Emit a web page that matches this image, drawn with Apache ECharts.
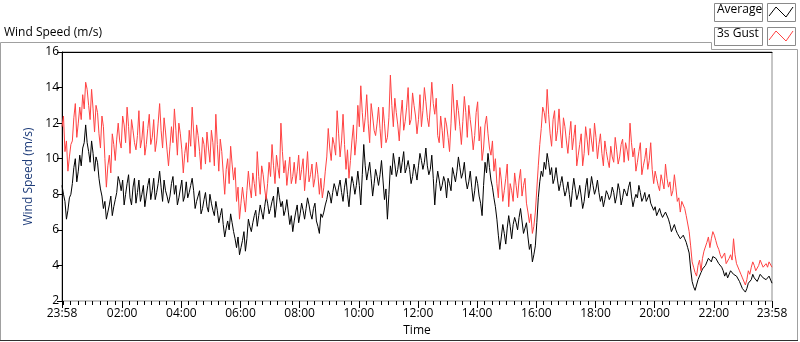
<!DOCTYPE html>
<html>
<head>
<meta charset="utf-8">
<script src="https://cdn.jsdelivr.net/npm/echarts@6/dist/echarts.min.js"></script>
<style>
  html, body { margin: 0; padding: 0; background: #fff; }
  #chart { width: 800px; height: 342px; }
</style>
</head>
<body>
<div id="chart"></div>
<script>
// samples every 3 minutes from 23:58: the "On" arrays hold minutes 0, 6, 12 ...,
// the "Mid" arrays hold minutes 3, 9, 15 ...
var STEP = 6;

// Average wind speed (m/s)
var averageOn = [
  8.5, 7.6, 7.1, 8.0, 9.5, 8.7, 10.2, 10.6, 11.9, 10.4,
  11.0, 9.3, 9.8, 8.3, 7.2, 6.6, 7.4, 6.8, 7.7, 9.0,
  8.2, 7.4, 8.6, 7.8, 8.4, 7.5, 8.8, 8.0, 7.3, 8.5,
  7.7, 8.9, 8.1, 9.3, 7.6, 8.2, 7.5, 8.6, 8.0, 7.4,
  8.3, 7.6, 8.7, 8.1, 8.9, 7.2, 7.9, 6.9, 7.7, 7.3,
  8.0, 7.1, 7.6, 6.4, 7.2, 5.6, 6.5, 6.9, 5.9, 5.0,
  4.6, 5.4, 4.8, 6.6, 5.9, 6.8, 6.2, 7.4, 6.6, 7.9,
  6.9, 7.6, 6.7, 8.4, 7.3, 6.8, 7.7, 6.3, 5.9, 7.0,
  6.4, 7.5, 6.6, 7.8, 6.9, 7.2, 6.5, 5.8, 6.7, 7.4,
  8.2, 7.5, 8.6, 7.9, 8.8, 7.6, 8.9, 7.3, 9.0, 8.0,
  9.3, 7.4, 10.8, 8.8, 9.8, 7.9, 9.4, 8.5, 9.9, 7.7,
  6.6, 9.6, 10.3, 9.0, 10.1, 9.8, 9.2, 9.9, 8.6, 9.7,
  8.8, 10.3, 9.4, 10.6, 9.1, 10.2, 7.4, 9.3, 8.2, 9.0,
  7.8, 8.6, 9.5, 8.7, 10.1, 8.9, 9.8, 8.3, 9.3, 7.6,
  9.0, 7.9, 6.8, 9.8, 10.3, 8.8, 7.8, 6.6, 4.9, 6.3,
  5.2, 6.8, 5.5, 6.7, 6.0, 7.2, 5.8, 6.4, 4.9, 4.2,
  5.1, 7.8, 9.3, 9.8, 10.3, 9.1, 8.6, 9.5, 8.2, 9.0,
  7.9, 8.7, 7.3, 8.9, 7.7, 8.5, 7.2, 8.4, 7.8, 9.0,
  8.0, 8.8, 7.6, 7.3, 8.2, 7.7, 8.4, 7.5, 8.6, 7.4,
  8.3, 7.9, 8.7, 7.3, 8.0, 8.5, 7.6, 8.1, 7.8, 7.5,
  7.1, 6.8, 7.2, 6.7, 7.0, 6.6, 5.9, 6.3, 5.8, 5.5,
  5.7, 5.3, 4.7, 3.1, 2.6, 3.2, 3.6, 3.9, 4.2, 4.3,
  4.5, 4.4, 4.1, 3.9, 3.4, 3.3, 3.7, 3.5, 3.4, 3.1,
  2.7, 2.5, 3.0, 3.2, 3.3, 3.1, 3.5, 3.3, 3.2, 3.4, 3.0
];
var averageMid = [
  8.0, 6.6, 7.8, 8.6, 10.0, 9.3, 9.6, 10.9, 10.9, 9.8,
  10.3, 10.1, 8.9, 7.9, 7.6, 7.0, 7.9, 7.3, 8.1, 8.7,
  8.8, 8.0, 9.1, 7.4, 8.9, 8.1, 7.6, 8.5, 7.9, 8.9,
  8.2, 7.7, 8.6, 8.4, 8.8, 7.9, 7.9, 9.0, 8.5, 7.8,
  8.8, 7.9, 7.8, 8.5, 8.2, 7.6, 8.2, 7.2, 8.1, 7.0,
  7.5, 6.8, 7.1, 6.8, 6.3, 6.1, 6.0, 6.4, 5.5, 5.6,
  5.0, 5.9, 5.5, 6.2, 6.4, 7.1, 6.8, 7.0, 7.3, 7.5,
  7.2, 7.9, 7.4, 7.8, 7.6, 7.1, 7.0, 6.8, 6.5, 7.4,
  6.9, 7.1, 7.2, 7.4, 6.6, 7.5, 6.2, 6.9, 7.0, 7.7,
  8.0, 8.1, 8.3, 8.4, 8.1, 8.4, 8.0, 8.3, 8.6, 8.5,
  8.5, 9.1, 9.6, 9.3, 8.9, 8.6, 9.0, 9.1, 8.8, 8.3,
  8.0, 9.1, 9.7, 9.4, 9.2, 10.4, 9.5, 9.4, 9.0, 9.3,
  9.6, 9.9, 9.8, 9.6, 9.4, 8.9, 8.6, 8.8, 8.5, 8.7,
  8.9, 8.2, 9.1, 9.3, 9.5, 9.2, 8.8, 8.7, 8.4, 8.2,
  8.6, 7.5, 8.5, 9.2, 9.5, 8.4, 7.3, 5.7, 5.6, 5.8,
  6.1, 6.2, 6.3, 6.4, 6.7, 6.5, 6.1, 5.6, 5.2, 4.6,
  6.4, 8.7, 9.0, 9.4, 9.8, 9.5, 8.9, 8.8, 8.6, 8.4,
  8.2, 8.0, 8.2, 8.3, 8.0, 7.9, 7.6, 8.9, 8.3, 8.5,
  8.3, 8.1, 7.9, 7.7, 8.0, 7.9, 8.1, 7.9, 8.2, 7.8,
  8.1, 8.4, 7.9, 7.7, 7.8, 8.1, 7.8, 7.6, 8.0, 7.4,
  7.3, 7.0, 6.9, 6.8, 6.9, 6.3, 6.1, 6.0, 5.7, 5.4,
  5.5, 5.0, 3.8, 2.8, 2.9, 3.3, 3.8, 4.0, 4.4, 4.2,
  4.6, 4.3, 4.0, 3.7, 3.6, 3.4, 3.8, 3.6, 3.3, 2.9,
  2.8, 2.7, 3.1, 3.5, 3.2, 3.3, 3.6, 3.4, 3.1, 3.3
];

// 3s gust (m/s)
var gustOn = [
  11.8, 10.4, 9.3, 10.8, 12.3, 11.2, 12.9, 13.6, 14.3, 13.0,
  13.9, 11.5, 12.6, 10.6, 11.8, 8.4, 10.2, 11.4, 9.9, 12.0,
  10.6, 11.9, 12.9, 10.3, 11.6, 10.5, 12.7, 11.1, 10.2, 11.7,
  10.8, 12.2, 11.0, 13.1, 10.6, 11.5, 9.6, 11.8, 12.8, 10.2,
  11.4, 9.2, 10.9, 11.6, 12.9, 10.1, 11.3, 9.4, 10.8, 11.5,
  9.8, 10.9, 12.5, 9.3, 10.4, 8.0, 10.0, 10.7, 8.8, 7.6,
  6.6, 8.4, 7.0, 9.3, 7.8, 8.6, 10.4, 8.0, 9.1, 7.7,
  9.8, 10.8, 8.6, 9.5, 12.0, 9.2, 8.5, 10.1, 9.0, 8.6,
  10.2, 9.4, 8.2, 10.4, 9.1, 8.4, 9.8, 8.0, 7.8, 9.3,
  11.7, 9.9, 10.8, 12.7, 10.1, 12.5, 9.4, 8.9, 11.0, 10.2,
  13.0, 14.1, 11.5, 13.6, 10.9, 12.4, 11.3, 12.9, 10.6, 12.0,
  11.2, 14.7, 11.8, 12.6, 11.0, 13.3, 12.1, 14.0, 12.2, 13.0,
  11.4, 13.6, 12.7, 13.2, 11.8, 14.3, 12.5, 11.3, 12.4, 10.6,
  11.9, 10.4, 14.2, 11.6, 12.7, 10.8, 13.5, 11.2, 12.2, 10.5,
  12.6, 11.0, 9.9, 11.9, 11.4, 10.2, 9.3, 8.6, 9.5, 7.6,
  8.9, 7.3, 8.2, 9.2, 7.8, 9.4, 8.5, 7.5, 6.4, 5.8,
  7.0, 9.6, 11.7, 12.6, 13.9, 11.4, 12.2, 11.0, 12.8, 10.6,
  11.8, 10.3, 12.1, 11.2, 9.6, 10.8, 9.6, 11.8, 10.2, 11.0,
  12.0, 10.0, 11.4, 9.6, 10.4, 9.5, 10.1, 11.2, 9.7, 10.8,
  9.8, 10.5, 12.0, 10.1, 9.3, 10.4, 9.1, 10.0, 9.4, 10.9,
  8.6, 8.9, 8.2, 8.7, 9.7, 8.4, 7.9, 9.1, 7.6, 7.0,
  7.4, 6.8, 5.9, 4.2, 3.6, 4.0, 3.7, 4.8, 5.3, 5.0,
  5.9, 5.4, 4.9, 4.4, 4.7, 4.2, 4.6, 5.5, 4.1, 3.7,
  3.3, 2.9, 3.7, 3.9, 4.0, 3.8, 4.3, 3.9, 4.1, 4.2, 3.9
];
var gustMid = [
  12.4, 11.0, 10.1, 11.0, 13.1, 12.0, 12.2, 12.8, 13.9, 12.2,
  12.8, 13.0, 11.4, 12.4, 10.0, 9.6, 9.2, 10.8, 11.1, 11.0,
  12.4, 10.9, 11.8, 12.2, 10.9, 11.3, 10.6, 12.1, 10.8, 12.5,
  11.2, 10.4, 12.0, 11.6, 12.3, 10.5, 10.7, 10.9, 11.6, 12.0,
  10.5, 10.3, 9.8, 10.7, 11.5, 11.9, 10.4, 11.2, 9.7, 10.6,
  11.6, 9.6, 10.8, 11.1, 9.2, 9.4, 8.6, 9.7, 9.5, 8.4,
  7.5, 7.7, 8.2, 8.4, 9.2, 7.9, 9.0, 9.6, 8.3, 8.6,
  9.0, 9.6, 10.2, 8.9, 10.4, 9.9, 9.3, 8.6, 9.8, 9.3,
  8.8, 10.0, 9.2, 8.7, 9.7, 8.9, 9.1, 8.9, 8.4, 10.1,
  10.6, 11.2, 10.2, 11.4, 11.0, 10.8, 10.5, 9.9, 11.9, 11.1,
  11.8, 12.6, 12.3, 12.0, 13.1, 11.6, 12.0, 11.7, 12.9, 10.9,
  12.3, 13.0, 13.4, 11.9, 12.4, 11.6, 12.9, 11.9, 13.7, 12.4,
  12.2, 11.8, 14.0, 12.3, 12.9, 13.1, 13.4, 10.9, 11.6, 12.3,
  11.2, 12.0, 12.8, 13.3, 11.8, 12.1, 12.6, 13.0, 11.5, 11.3,
  13.2, 11.8, 10.6, 12.4, 10.6, 11.0, 10.0, 7.8, 8.8, 8.2,
  9.7, 8.6, 7.6, 8.5, 8.8, 7.9, 8.9, 7.0, 6.9, 6.2,
  8.3, 10.8, 12.9, 12.0, 12.5, 10.7, 12.7, 11.6, 11.5, 12.3,
  11.0, 11.3, 10.5, 11.9, 10.2, 11.4, 10.3, 11.1, 11.7, 10.4,
  11.2, 10.8, 10.3, 11.0, 9.9, 10.7, 9.8, 10.5, 10.1, 11.1,
  10.9, 9.9, 10.9, 10.6, 9.8, 10.9, 9.6, 10.6, 9.9, 9.4,
  9.3, 8.5, 9.1, 8.3, 8.9, 8.7, 8.2, 8.4, 7.8, 7.6,
  7.2, 6.9, 5.1, 3.9, 3.4, 4.3, 4.4, 4.9, 5.6, 5.5,
  5.7, 5.1, 4.6, 4.5, 4.1, 4.4, 4.3, 4.6, 4.0, 3.5,
  3.4, 3.2, 3.5, 4.2, 3.7, 4.0, 4.2, 3.8, 3.9, 4.1
];

// x ticks, in minutes after 23:58
var majorTicks = [0, 122, 242, 362, 482, 602, 722, 842, 962, 1082, 1202, 1322, 1440];
var minorTicks = [];
for (var m = 2; m < 1440; m += 15) minorTicks.push(m);

var yTicks = [2, 4, 6, 8, 10, 12, 14, 16];

var FONT = "'Open Sans', sans-serif";

function clock(v) {
  if (v >= 1440) return '23:58';
  var t = (v + 23 * 60 + 58) % 1440;
  var h = Math.floor(t / 60), mm = Math.round(t % 60);
  return (h < 10 ? '0' : '') + h + ':' + (mm < 10 ? '0' : '') + mm;
}

function merge(on, mid) {
  var out = [];
  for (var i = 0; i < on.length; i++) {
    out.push([i * STEP, on[i]]);
    if (i < mid.length) out.push([i * STEP + STEP / 2, mid[i]]);
  }
  return out;
}

var chart = echarts.init(document.getElementById('chart'), null, { renderer: 'canvas' });

var option = {
  animation: false,
  backgroundColor: '#fff',
  textStyle: { fontFamily: FONT },
  grid: {
    left: 62, right: 28, top: 52, bottom: 40,
    show: true, borderColor: '#8c8c8c', borderWidth: 1
  },
  xAxis: [
    {
      type: 'value', min: 0, max: 1440,
      name: 'Time', nameLocation: 'middle', nameGap: 24,
      nameTextStyle: { color: '#000', fontSize: 12, fontFamily: FONT },
      axisLine: { show: false },
      axisTick: { show: true, customValues: majorTicks, length: 7, lineStyle: { color: '#000' } },
      axisLabel: {
        customValues: majorTicks, formatter: clock, margin: 7,
        color: '#000', fontSize: 12, fontFamily: FONT
      },
      splitLine: { show: false }
    },
    {
      type: 'value', min: 0, max: 1440, position: 'bottom',
      axisLine: { show: false },
      axisTick: { show: true, customValues: minorTicks, length: 4, lineStyle: { color: '#000' } },
      axisLabel: { show: false },
      splitLine: { show: false }
    },
    {
      type: 'value', min: 0, max: 1440, position: 'top',
      axisLine: { show: true, lineStyle: { color: '#000', width: 1 } },
      axisTick: { show: false },
      axisLabel: { show: false },
      splitLine: { show: false }
    }
  ],
  yAxis: {
    type: 'value', min: 2, max: 16, interval: 2,
    name: 'Wind Speed (m/s)', nameLocation: 'middle', nameGap: 24, nameRotate: 90,
    nameTextStyle: { color: '#1f3d7a', fontSize: 12, fontFamily: FONT },
    axisLine: { show: true, lineStyle: { color: '#000', width: 1 } },
    axisTick: { show: true, length: 5, lineStyle: { color: '#000' } },
    axisLabel: {
      customValues: yTicks, margin: 3,
      color: '#000', fontSize: 12, fontFamily: FONT
    },
    splitLine: { show: false }
  },
  series: [
    {
      name: 'Average', type: 'line', xAxisIndex: 0,
      showSymbol: false, symbol: 'none',
      lineStyle: { color: '#000', width: 1 },
      data: merge(averageOn, averageMid)
    },
    {
      name: '3s Gust', type: 'line', xAxisIndex: 0,
      showSymbol: false, symbol: 'none',
      lineStyle: { color: '#ff4242', width: 1 },
      data: merge(gustOn, gustMid)
    }
  ],
  graphic: [
    // panel frame
    { type: 'polyline', silent: true,
      shape: { points: [[0.5, 341], [0.5, 42.5], [711.5, 42.5], [711.5, 49.5], [797.5, 49.5], [797.5, 341]] },
      style: { stroke: '#a0a0a0', lineWidth: 1, fill: null } },
    { type: 'line', silent: true,
      shape: { x1: 0, y1: 340.5, x2: 798, y2: 340.5 },
      style: { stroke: '#303030', lineWidth: 1 } },
    { type: 'text', left: 4, top: 27,
      style: { text: 'Wind Speed (m/s)', fill: '#000', fontSize: 12, fontFamily: FONT } },
    // legend
    { type: 'rect', shape: { x: 714.5, y: 3.5, width: 48, height: 18 },
      style: { fill: '#fff', stroke: '#8a8a8a', lineWidth: 1 } },
    { type: 'text', left: 717, top: 4,
      style: { text: 'Average', fill: '#000', fontSize: 12, fontFamily: FONT } },
    { type: 'rect', shape: { x: 767.5, y: 3.5, width: 28, height: 18 },
      style: { fill: '#fff', stroke: '#8a8a8a', lineWidth: 1 } },
    { type: 'polyline', shape: { points: [[769, 16], [776, 7], [786, 17], [793, 7]] },
      style: { stroke: '#000', lineWidth: 1, fill: null } },
    { type: 'rect', shape: { x: 714.5, y: 27.5, width: 48, height: 18 },
      style: { fill: '#fff', stroke: '#8a8a8a', lineWidth: 1 } },
    { type: 'text', left: 717, top: 28,
      style: { text: '3s Gust', fill: '#000', fontSize: 12, fontFamily: FONT } },
    { type: 'rect', shape: { x: 767.5, y: 27.5, width: 28, height: 18 },
      style: { fill: '#fff', stroke: '#8a8a8a', lineWidth: 1 } },
    { type: 'polyline', shape: { points: [[769, 40], [776, 31], [786, 41], [793, 31]] },
      style: { stroke: '#ff4242', lineWidth: 1, fill: null } }
  ]
};

chart.setOption(option);
</script>
</body>
</html>
